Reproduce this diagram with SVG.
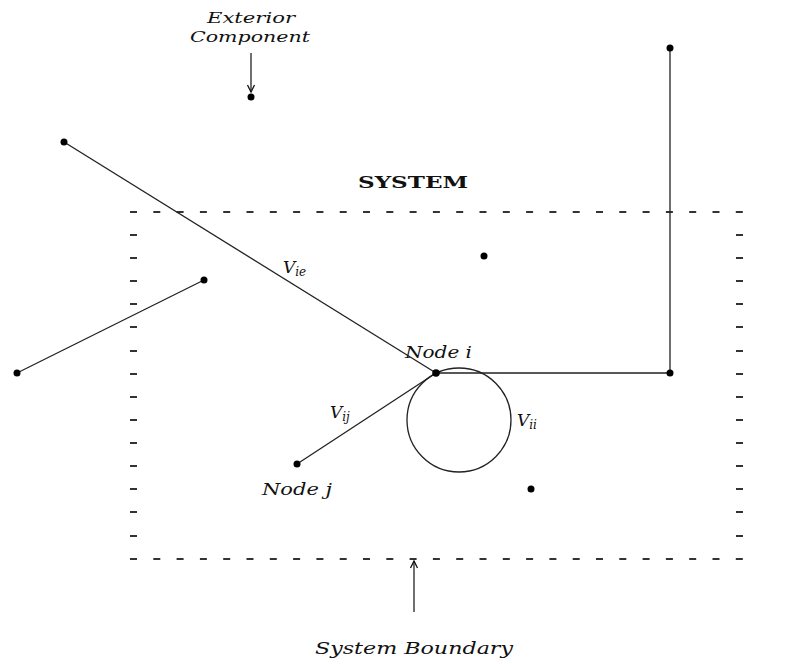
<svg xmlns="http://www.w3.org/2000/svg" width="807" height="664" viewBox="0 0 807 664">
<style>
.ln{stroke:#222;stroke-width:1.3;fill:none}
.bd{stroke:#333;stroke-width:1.8;fill:none}
.dot{fill:#000}
.it{font-family:"DejaVu Serif","Liberation Serif",serif;font-style:italic;fill:#111}
.bf{font-family:"DejaVu Serif","Liberation Serif",serif;font-weight:bold;fill:#111}
</style>
<defs>
<marker id="ah" markerWidth="10" markerHeight="10" refX="8" refY="5" orient="auto" markerUnits="userSpaceOnUse">
<path d="M1,1.5 L8,5 L1,8.5" fill="none" stroke="#111" stroke-width="1.3"/>
</marker>
</defs>
<rect width="807" height="664" fill="#fff"/>
<g id="boundary">
<line class="bd" x1="130" y1="212" x2="744" y2="212" stroke-dasharray="7 16.3"/>
<line class="bd" x1="130" y1="559" x2="744" y2="559" stroke-dasharray="7 16.3"/>
<path class="bd" d="M130 235h7M130 258h7M130 281h7M130 304h7M130 327h7M130 351h7M130 374h7M130 397h7M130 420h7M130 443h7M130 466h7M130 489h7M130 512h7M130 536h7"/>
<path class="bd" d="M736 235h7M736 258h7M736 281h7M736 304h7M736 327h7M736 351h7M736 374h7M736 397h7M736 420h7M736 443h7M736 466h7M736 489h7M736 512h7M736 536h7"/>
</g>
<g id="connectors">
<line class="ln" x1="64" y1="142" x2="436" y2="373"/>
<polyline class="ln" points="436,373 670,373 670,48"/>
<line class="ln" x1="17" y1="373" x2="204" y2="280"/>
<line class="ln" x1="297" y1="464" x2="436" y2="373"/>
<circle class="ln" cx="459" cy="420" r="52"/>
<line class="ln" x1="251" y1="53" x2="251" y2="92" marker-end="url(#ah)"/>
<line class="ln" x1="414" y1="612" x2="414" y2="561" marker-end="url(#ah)"/>
</g>
<g id="exterior-component">
<circle class="dot" cx="251" cy="97" r="3.5"/>
<text class="it" x="207" y="23" font-size="15" textLength="88" lengthAdjust="spacingAndGlyphs">Exterior</text>
<text class="it" x="190" y="42" font-size="15" textLength="120" lengthAdjust="spacingAndGlyphs">Component</text>
</g>
<g id="system-label">
<text class="bf" x="358" y="188" font-size="17" textLength="110" lengthAdjust="spacingAndGlyphs">SYSTEM</text>
</g>
<g id="node-i">
<circle class="dot" cx="436" cy="373" r="3.8"/>
<text class="it" x="405" y="358" font-size="16" textLength="67" lengthAdjust="spacingAndGlyphs">Node i</text>
</g>
<g id="node-j">
<circle class="dot" cx="297" cy="464" r="3.5"/>
<text class="it" x="262" y="495" font-size="16" textLength="70" lengthAdjust="spacingAndGlyphs">Node j</text>
</g>
<g id="n-far-left"><circle class="dot" cx="64" cy="142" r="3.5"/></g>
<g id="n-left"><circle class="dot" cx="17" cy="373" r="3.5"/></g>
<g id="n-inner-left"><circle class="dot" cx="204" cy="280" r="3.5"/></g>
<g id="n-top-right"><circle class="dot" cx="670" cy="48" r="3.5"/></g>
<g id="n-right"><circle class="dot" cx="670" cy="373" r="3.5"/></g>
<g id="n-inner-top"><circle class="dot" cx="484" cy="256" r="3.5"/></g>
<g id="n-inner-bottom"><circle class="dot" cx="531" cy="489" r="3.5"/></g>
<g id="labels">
<text class="it" x="283" y="273" font-size="17">V<tspan font-size="12" dy="3">ie</tspan></text>
<text class="it" x="330" y="418" font-size="17">V<tspan font-size="12" dy="3">ij</tspan></text>
<text class="it" x="517" y="426" font-size="17">V<tspan font-size="12" dy="3">ii</tspan></text>
<text class="it" x="315" y="654" font-size="16" textLength="198" lengthAdjust="spacingAndGlyphs">System  Boundary</text>
</g>
</svg>
